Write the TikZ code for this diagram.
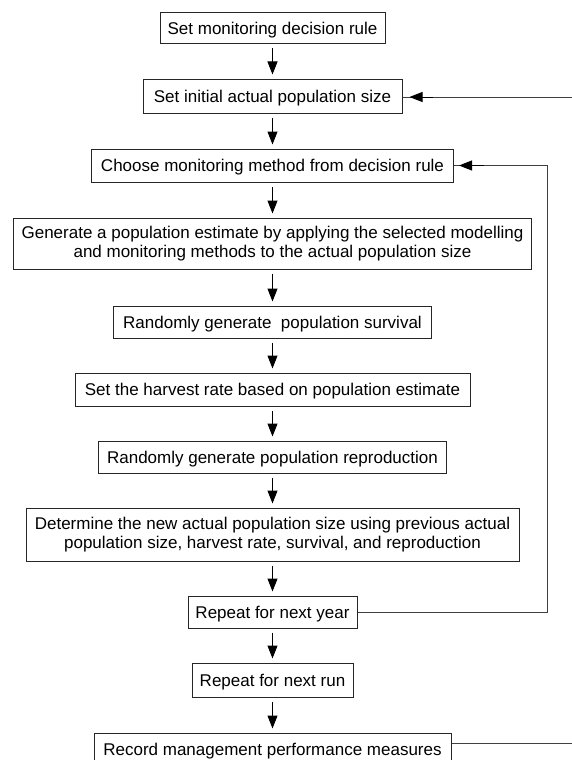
\documentclass[tikz,border=0pt]{standalone}
\usepackage{fontspec}
\setmainfont{Liberation Sans}
\usetikzlibrary{arrows.meta}
\begin{document}
\begin{tikzpicture}[x=1pt,y=-1pt,
  boxbase/.style={draw=black!85, line width=1pt, inner sep=0pt, align=center,
    font=\fontsize{17}{18.5}\selectfont},
  box/.style={boxbase, text height=15pt, text depth=3pt},
  two/.style={boxbase},
  tip/.style={-{Triangle[length=13pt,width=10pt]}},
  arr/.style={tip, line width=1pt, shorten <=4pt, shorten >=4pt},
  fb/.style={line width=0.9pt, draw=black!75}]
\clip (0,0) rectangle (572,760);
\node[box, minimum width=225pt, minimum height=31pt] (b1) at (272.5,28.5) {Set monitoring decision rule};
\node[box, minimum width=259pt, minimum height=34pt] (b2) at (272.5,96) {Set initial actual population size};
\node[box, minimum width=362pt, minimum height=33pt] (b3) at (272.5,165.5) {Choose monitoring method from decision rule};
\node[two, minimum width=518pt, minimum height=51pt] (b4) at (272.5,243.5) {Generate a population estimate by applying the selected modelling\\and monitoring methods to the actual population size};
\node[box, minimum width=318pt, minimum height=32pt] (b5) at (272.5,322) {Randomly generate\ \ population survival};
\node[box, minimum width=395pt, minimum height=33pt] (b6) at (272.5,389.5) {Set the harvest rate based on population estimate};
\node[box, minimum width=348pt, minimum height=32pt] (b7) at (272.5,457) {Randomly generate population reproduction};
\node[two, minimum width=493pt, minimum height=53pt] (b8) at (272.5,534.5) {Determine the new actual population size using previous actual\\population size, harvest rate, survival, and reproduction};
\node[box, minimum width=169pt, minimum height=32pt] (b9) at (272.5,612) {Repeat for next year};
\node[box, minimum width=161pt, minimum height=34pt] (b10) at (272.5,680) {Repeat for next run};
\node[box, minimum width=357pt, minimum height=33pt] (b11) at (272.5,749.5) {Record management performance measures};

\foreach \a/\b in {b1/b2,b2/b3,b3/b4,b4/b5,b5/b6,b6/b7,b7/b8,b8/b9,b9/b10,b10/b11}
  \draw[arr] (\a.south) -- (\a.south |- \b.north);

\coordinate (in1) at (572,97);
\coordinate (loopx) at (547,0);
\coordinate (out1) at (572,743);

\draw[fb] (in1) -- (in1 -| b2.east);
\draw[tip, line width=1pt, shorten >=7pt] ([xshift=30pt]in1 -| b2.east) -- (in1 -| b2.east);
\draw[fb] (b9.east) -- (b9.east -| loopx) |- (b3.east);
\draw[tip, line width=1pt, shorten >=5pt] ([xshift=30pt]b3.east) -- (b3.east);
\draw[fb] (b11.east |- out1) -- (out1);
\end{tikzpicture}
\end{document}
